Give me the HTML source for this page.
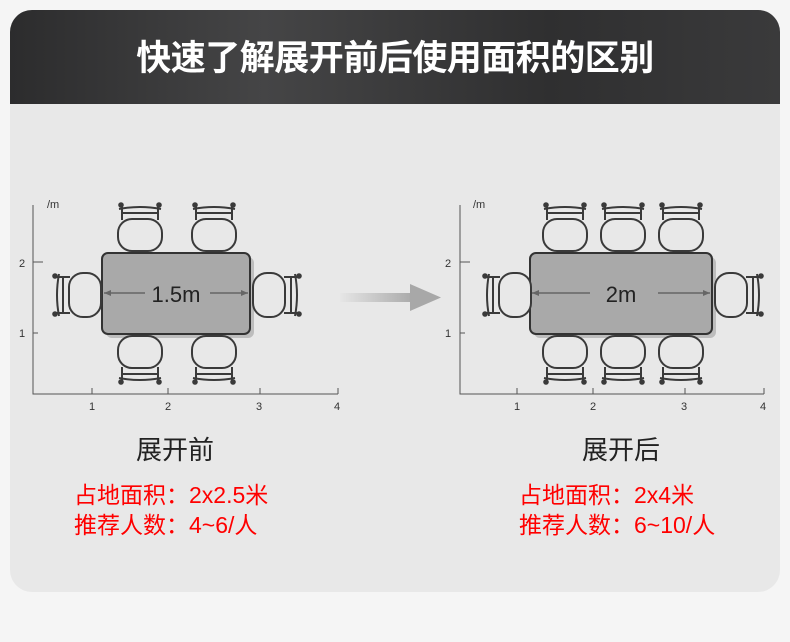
<!DOCTYPE html>
<html><head><meta charset="utf-8"><style>
html,body{margin:0;padding:0;background:#f5f5f5;}
svg{display:block;}
</style></head><body>
<svg width="790" height="642" viewBox="0 0 790 642" xmlns="http://www.w3.org/2000/svg">
<defs>
<linearGradient id="hd" x1="0" x2="1" y1="0" y2="0">
<stop offset="0" stop-color="#2c2c2d"/><stop offset="0.33" stop-color="#454546"/><stop offset="0.7" stop-color="#2f2f30"/><stop offset="1" stop-color="#3a3a3b"/>
</linearGradient>
<linearGradient id="ar" x1="0" x2="1"><stop offset="0" stop-color="#e6e6e6"/><stop offset="1" stop-color="#a8a8a8"/></linearGradient>
<clipPath id="card"><rect x="10" y="10" width="770" height="582" rx="22"/></clipPath>
<g id="ch" fill="none" stroke="#3a3a3a" stroke-width="2">
<rect x="-22" y="-16" width="44" height="32" rx="14" fill="#e8e8e8"/>
<path d="M-21,-26 Q0,-30 21,-26"/>
<path d="M-19,-22 H19"/>
<path d="M-18,-30 V-15 M18,-30 V-15"/>
<circle cx="-19" cy="-30" r="1.8" fill="#3a3a3a"/><circle cx="19" cy="-30" r="1.8" fill="#3a3a3a"/>
</g>
</defs>
<g clip-path="url(#card)">
<rect x="10" y="10" width="770" height="582" fill="#e8e8e8"/>
<rect x="10" y="10" width="770" height="94" fill="url(#hd)"/>
</g>
<text x="395" y="70" text-anchor="middle" font-family="'Liberation Sans','Noto Sans CJK SC',sans-serif" font-weight="bold" font-size="35" letter-spacing="-0.5" fill="#fff">快速了解展开前后使用面积的区别</text>

<g font-family="'Liberation Sans','Noto Sans CJK SC',sans-serif" font-size="11" fill="#333">
<path d="M33,205 V394 H338 M33,262 H43 M33,333 H38 M92,394 V388 M168,394 V388 M260,394 V388 M338,394 V388" stroke="#555" stroke-width="1" fill="none"/>
<text x="47" y="208">/m</text>
<text x="19" y="267">2</text><text x="19" y="337">1</text>
<text x="89" y="410">1</text><text x="165" y="410">2</text><text x="256" y="410">3</text><text x="334" y="410">4</text>
<path d="M460,205 V394 H764 M460,262 H470 M460,333 H465 M517,394 V388 M593,394 V388 M685,394 V388 M764,394 V388" stroke="#555" stroke-width="1" fill="none"/>
<text x="473" y="208">/m</text>
<text x="445" y="267">2</text><text x="445" y="337">1</text>
<text x="514" y="410">1</text><text x="590" y="410">2</text><text x="681" y="410">3</text><text x="760" y="410">4</text>
</g>

<rect x="106" y="257" width="148" height="81" rx="6" fill="#bdbdbd"/>
<rect x="102" y="253" width="148" height="81" rx="6" fill="#a9a9a9" stroke="#333" stroke-width="2"/>
<path d="M104,293 H145 M210,293 H248" stroke="#666" stroke-width="1.5"/>
<path d="M104,293 l7,-3 v6 z M248,293 l-7,-3 v6 z" fill="#666"/>
<text x="176" y="302" text-anchor="middle" font-family="'Liberation Sans',sans-serif" font-size="22" fill="#222">1.5m</text>
<use href="#ch" transform="translate(140,235)"/>
<use href="#ch" transform="translate(214,235)"/>
<use href="#ch" transform="translate(140,352) rotate(180)"/>
<use href="#ch" transform="translate(214,352) rotate(180)"/>
<use href="#ch" transform="translate(85,295) rotate(-90)"/>
<use href="#ch" transform="translate(269,295) rotate(90)"/>

<rect x="340" y="293" width="75" height="9" fill="url(#ar)"/>
<path d="M410,284 L441,297.5 L410,311 Z" fill="#a8a8a8"/>

<rect x="534" y="257" width="182" height="81" rx="6" fill="#bdbdbd"/>
<rect x="530" y="253" width="182" height="81" rx="6" fill="#a9a9a9" stroke="#333" stroke-width="2"/>
<path d="M532,293 H590 M658,293 H710" stroke="#666" stroke-width="1.5"/>
<path d="M532,293 l7,-3 v6 z M710,293 l-7,-3 v6 z" fill="#666"/>
<text x="621" y="302" text-anchor="middle" font-family="'Liberation Sans',sans-serif" font-size="22" fill="#222">2m</text>
<use href="#ch" transform="translate(565,235)"/>
<use href="#ch" transform="translate(623,235)"/>
<use href="#ch" transform="translate(681,235)"/>
<use href="#ch" transform="translate(565,352) rotate(180)"/>
<use href="#ch" transform="translate(623,352) rotate(180)"/>
<use href="#ch" transform="translate(681,352) rotate(180)"/>
<use href="#ch" transform="translate(515,295) rotate(-90)"/>
<use href="#ch" transform="translate(731,295) rotate(90)"/>

<g font-family="'Liberation Sans','Noto Sans CJK SC',sans-serif">
<text x="175" y="459" text-anchor="middle" font-size="26" fill="#222">展开前</text>
<text x="74" y="503" font-size="23" fill="#f00">占地面积：2x2.5米</text>
<text x="74" y="533" font-size="23" fill="#f00">推荐人数：4~6/人</text>
<text x="621" y="459" text-anchor="middle" font-size="26" fill="#222">展开后</text>
<text x="519" y="503" font-size="23" fill="#f00">占地面积：2x4米</text>
<text x="519" y="533" font-size="23" fill="#f00">推荐人数：6~10/人</text>
</g>
</svg>
</body></html>
